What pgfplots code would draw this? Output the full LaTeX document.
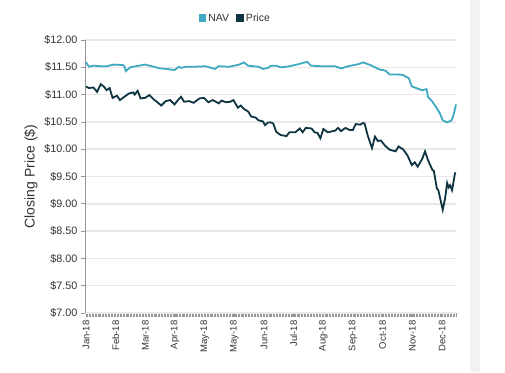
\documentclass[border=0pt]{standalone}
\usepackage{fontspec}
\setmainfont{Liberation Sans}
\usepackage{pgfplots}
\pgfplotsset{compat=1.18}
\definecolor{navc}{RGB}{62,169,192}
\definecolor{pricec}{RGB}{13,52,64}
\definecolor{gridc}{RGB}{232,232,232}
\definecolor{axc}{RGB}{150,150,150}
\definecolor{txtc}{RGB}{50,50,50}
\begin{document}
\begin{tikzpicture}[x=1bp,y=1bp]
\useasboundingbox (0,0) rectangle (505,372);
\fill[black!5] (470,0) rectangle (480,372);
\begin{axis}[at={(85bp,59bp)}, anchor=south west, scale only axis,
 width=371bp, height=273bp,
 xmin=-0.7, xmax=251, ymin=7, ymax=12,
 axis lines*=left,
 y axis line style={draw=axc, line width=0.8bp},
 x axis line style={draw=gridc, line width=1.5bp},
 ytick={7,7.5,...,12},
 yticklabels={\$7.00,\$7.50,\$8.00,\$8.50,\$9.00,\$9.50,\$10.00,\$10.50,\$11.00,\$11.50,\$12.00},
 ymajorgrids, grid style={gridc, line width=1.5bp},
 xtick={0,20.12,40.25,60.37,80.5,100.62,120.75,140.87,161,181.12,201.25,221.37,241.5},
 xticklabels={Jan-18,Feb-18,Mar-18,Apr-18,May-18,May-18,Jun-18,Jul-18,Aug-18,Sep-18,Oct-18,Nov-18,Dec-18},
 minor xtick={0,...,251},
 tick align=outside, major tick length=4bp, minor tick length=4bp,
 tick style={axc, line width=0.6bp},
 y tick style={axc, line width=0.8bp},
 x tick label style={rotate=90, anchor=east, font=\fontsize{9.5bp}{11bp}\selectfont, text=txtc},
 y tick label style={font=\fontsize{10.8bp}{12bp}\selectfont, text=txtc},
 ylabel={Closing Price (\$)},
 ylabel style={at={(axis description cs:-0.146,0.5)}, anchor=center, font=\fontsize{14bp}{16bp}\selectfont, text=txtc},
 legend style={at={(axis description cs:0.405,1.08)}, anchor=center, draw=none, fill=none,
   font=\fontsize{10.5bp}{12bp}\selectfont, text=txtc, legend columns=2,
   /tikz/every even column/.append style={column sep=5bp}},
 legend image code/.code={\fill[#1] (0bp,-3bp) rectangle (6bp,3bp);},
 clip=false,
]
\addplot[navc, line width=1.8bp] coordinates {
(0,11.59) (2,11.51) (5,11.53) (10,11.52) (14,11.52) (19,11.55) (25,11.54) (26,11.52)
(27,11.43) (30,11.50) (34,11.52) (40,11.55) (46,11.51) (50,11.48) (55,11.47) (60,11.45)
(63,11.51) (64.5,11.49) (68,11.51) (74,11.51) (81,11.52) (87.5,11.47) (90,11.52) (97,11.51)
(104,11.55) (107,11.59) (110,11.53) (117,11.51) (120,11.47) (123.5,11.49) (125.5,11.53)
(129,11.53) (132,11.50) (136,11.51) (143,11.55) (150,11.60) (152.6,11.53) (159,11.52)
(169,11.52) (173,11.48) (178,11.52) (185,11.56) (188,11.59) (193,11.54) (199,11.46)
(203,11.44) (206,11.37) (211,11.37) (215,11.36) (219,11.30) (221,11.15) (224,11.12)
(228,11.08) (231,11.10) (232,10.96) (235,10.87) (238,10.75) (240,10.66) (242,10.53)
(245,10.49) (248,10.53) (249,10.60) (250,10.70) (251,10.82)
};
\addlegendentry{NAV}
\addplot[pricec, line width=1.8bp] coordinates {
(0,11.15) (2,11.12) (5,11.13) (7.5,11.05) (10,11.19) (12,11.15) (14,11.08) (16,11.12)
(18,10.94) (21,10.98) (23,10.90) (26,10.96) (29,11.02) (32,11.04) (33,11.00) (35,11.07)
(37,10.93) (40,10.94) (43,10.99) (46,10.91) (48,10.87) (51,10.80) (54,10.88) (57,10.90)
(60,10.82) (63,10.92) (64.5,10.96) (66.5,10.87) (70,10.88) (73,10.85) (77,10.93) (80,10.94)
(83,10.86) (86,10.90) (90,10.84) (92,10.89) (95,10.86) (98,10.87) (100,10.90) (103,10.76)
(105,10.80) (107,10.74) (110,10.69) (112,10.60) (115,10.58) (117,10.53) (120,10.51)
(121.4,10.44) (123.5,10.49) (125.5,10.49) (127,10.47) (129,10.32) (132,10.26) (136,10.24)
(138,10.31) (142,10.31) (145,10.38) (147,10.31) (149,10.39) (153,10.38) (155,10.31)
(157,10.30) (159,10.20) (161,10.37) (164,10.31) (169,10.34) (171,10.39) (173,10.33)
(176,10.39) (179,10.35) (181,10.35) (183,10.46) (186,10.45) (188,10.48) (189,10.47)
(191,10.26) (194,10.02) (196,10.23) (198,10.15) (200,10.16) (203,10.06) (206,9.99)
(210,9.96) (212,10.05) (215,10.00) (218,9.89) (221,9.71) (223,9.76) (225,9.68) (228,9.82)
(230,9.96) (232,9.80) (235,9.62) (236,9.60) (238,9.28) (239,9.25) (242,8.89) (243.6,9.10)
(245,9.38) (246,9.30) (247,9.34) (248.3,9.25) (249,9.35) (250.3,9.56) (251,9.56)
};
\addlegendentry{Price}
\end{axis}
\end{tikzpicture}
\end{document}
